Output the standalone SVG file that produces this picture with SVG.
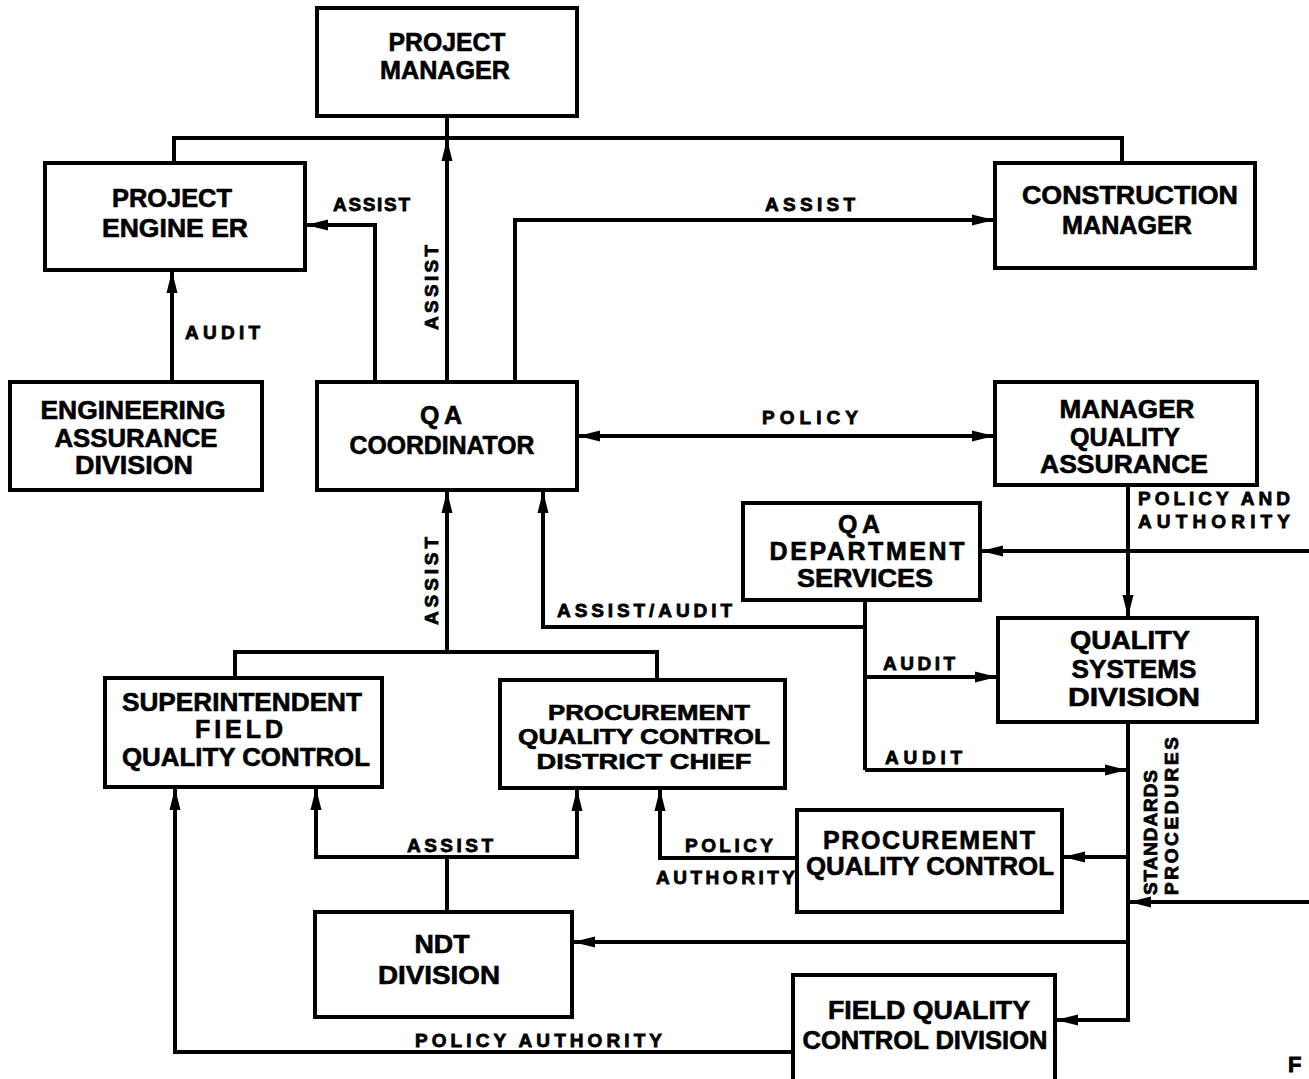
<svg xmlns="http://www.w3.org/2000/svg" width="1309" height="1079" viewBox="0 0 1309 1079">
<defs>
<style>
.box{fill:#fff;stroke:#000;stroke-width:4}
.n{font-family:"Liberation Sans",Arial,sans-serif;font-weight:bold;font-size:25px;text-anchor:middle;fill:#000;stroke:#000;stroke-width:0.6}
.l{font-family:"Liberation Sans",Arial,sans-serif;font-weight:bold;font-size:19px;fill:#000;stroke:#000;stroke-width:0.8}
.c{fill:none;stroke:#000;stroke-width:4}
.a{marker-end:url(#ah)}
</style>
<marker id="ah" markerUnits="userSpaceOnUse" viewBox="0 0 22 12" markerWidth="22" markerHeight="12" refX="21" refY="6" orient="auto-start-reverse">
<path d="M0,0.5 L22,6 L0,11.5 z" fill="#000"/>
</marker>
</defs>
<rect width="1309" height="1079" fill="#fff"/>
<g id="connectors">
<path class="c" d="M447,116 V138 M174,163 V138 H1122 V163"/>
<path class="c a" d="M447,382 V140"/>
<path class="c a" d="M375,382 V225 H307"/>
<path class="c a" d="M515,382 V220 H993"/>
<path class="c a" d="M172,382 V272"/>
<path class="c a" d="M579,436 H993" marker-start="url(#ah)"/>
<path class="c a" d="M1128,485 V616"/>
<path class="c a" d="M1309,551 H982"/>
<path class="c" d="M865,600 V770"/>
<path class="c a" d="M865,627 H543 V492"/>
<path class="c a" d="M865,677 H996"/>
<path class="c a" d="M865,770 H1126"/>
<path class="c a" d="M1128,722 V1020 H1057"/>
<path class="c a" d="M1128,857 H1064"/>
<path class="c a" d="M1309,902 H1130"/>
<path class="c a" d="M1128,942 H574"/>
<path class="c a" d="M447,652 V492"/>
<path class="c" d="M235,678 V652 H657 V680"/>
<path class="c" d="M447,912 V857"/>
<path class="c a" d="M447,857 H316 V789"/>
<path class="c a" d="M447,857 H577 V790"/>
<path class="c a" d="M797,858 H660 V790"/>
<path class="c a" d="M793,1052 H175 V789"/>
</g>
<g id="labels">
<text class="l" x="333" y="211" textLength="77" lengthAdjust="spacing">ASSIST</text>
<text class="l" x="765" y="211" textLength="90" lengthAdjust="spacing">ASSIST</text>
<text class="l" transform="translate(438,330) rotate(-90)" textLength="85" lengthAdjust="spacing">ASSIST</text>
<text class="l" x="185" y="339" textLength="75" lengthAdjust="spacing">AUDIT</text>
<text class="l" x="762" y="424" textLength="96" lengthAdjust="spacing">POLICY</text>
<text class="l" x="1138" y="505" textLength="152" lengthAdjust="spacing">POLICY AND</text>
<text class="l" x="1138" y="528" textLength="152" lengthAdjust="spacing">AUTHORITY</text>
<text class="l" transform="translate(438,625) rotate(-90)" textLength="88" lengthAdjust="spacing">ASSIST</text>
<text class="l" x="557" y="617" textLength="175" lengthAdjust="spacing">ASSIST/AUDIT</text>
<text class="l" x="883" y="670" textLength="72" lengthAdjust="spacing">AUDIT</text>
<text class="l" x="885" y="764" textLength="77" lengthAdjust="spacing">AUDIT</text>
<text class="l" transform="translate(1157,895) rotate(-90)" textLength="125" lengthAdjust="spacing">STANDARDS</text>
<text class="l" transform="translate(1178,895) rotate(-90)" textLength="158" lengthAdjust="spacing">PROCEDURES</text>
<text class="l" x="407" y="852" textLength="86" lengthAdjust="spacing">ASSIST</text>
<text class="l" x="685" y="852" textLength="88" lengthAdjust="spacing">POLICY</text>
<text class="l" x="656" y="884" textLength="139" lengthAdjust="spacing">AUTHORITY</text>
<text class="l" x="415" y="1047" textLength="247" lengthAdjust="spacing">POLICY AUTHORITY</text>
<text class="l" x="1288" y="1072" style="font-size:22px">F</text>
</g>
<g id="project-manager">
<rect class="box" x="317" y="8" width="260" height="108"/>
<text class="n" x="447" y="51" textLength="117" lengthAdjust="spacingAndGlyphs">PROJECT</text>
<text class="n" x="445" y="79" textLength="130" lengthAdjust="spacingAndGlyphs">MANAGER</text>
</g>
<g id="project-engineer">
<rect class="box" x="45" y="163" width="260" height="107"/>
<text class="n" x="172" y="207" textLength="120" lengthAdjust="spacingAndGlyphs">PROJECT</text>
<text class="n" x="175" y="237" textLength="146" lengthAdjust="spacingAndGlyphs">ENGINE ER</text>
</g>
<g id="construction-manager">
<rect class="box" x="995" y="163" width="260" height="105"/>
<text class="n" x="1130" y="204" textLength="216" lengthAdjust="spacingAndGlyphs">CONSTRUCTION</text>
<text class="n" x="1127" y="234" textLength="130" lengthAdjust="spacingAndGlyphs">MANAGER</text>
</g>
<g id="engineering-assurance-division">
<rect class="box" x="10" y="382" width="252" height="108"/>
<text class="n" x="133" y="419" textLength="185" lengthAdjust="spacingAndGlyphs">ENGINEERING</text>
<text class="n" x="136" y="447" textLength="163" lengthAdjust="spacingAndGlyphs">ASSURANCE</text>
<text class="n" x="134" y="474" textLength="118" lengthAdjust="spacingAndGlyphs">DIVISION</text>
</g>
<g id="qa-coordinator">
<rect class="box" x="317" y="382" width="260" height="108"/>
<text class="n" x="441" y="424" textLength="42" lengthAdjust="spacing">QA</text>
<text class="n" x="442" y="454" textLength="185" lengthAdjust="spacingAndGlyphs">COORDINATOR</text>
</g>
<g id="manager-quality-assurance">
<rect class="box" x="995" y="382" width="262" height="103"/>
<text class="n" x="1127" y="418" textLength="135" lengthAdjust="spacingAndGlyphs">MANAGER</text>
<text class="n" x="1125" y="446" textLength="110" lengthAdjust="spacingAndGlyphs">QUALITY</text>
<text class="n" x="1124" y="473" textLength="168" lengthAdjust="spacingAndGlyphs">ASSURANCE</text>
</g>
<g id="qa-department-services">
<rect class="box" x="743" y="503" width="237" height="97"/>
<text class="n" x="859" y="533" textLength="42" lengthAdjust="spacing">QA</text>
<text class="n" x="867" y="560" textLength="195" lengthAdjust="spacing">DEPARTMENT</text>
<text class="n" x="865" y="587" textLength="136" lengthAdjust="spacingAndGlyphs">SERVICES</text>
</g>
<g id="quality-systems-division">
<rect class="box" x="998" y="618" width="259" height="104"/>
<text class="n" x="1130" y="649" textLength="120" lengthAdjust="spacingAndGlyphs">QUALITY</text>
<text class="n" x="1134" y="678" textLength="125" lengthAdjust="spacingAndGlyphs">SYSTEMS</text>
<text class="n" x="1134" y="706" textLength="132" lengthAdjust="spacingAndGlyphs">DIVISION</text>
</g>
<g id="superintendent-field-quality-control">
<rect class="box" x="105" y="678" width="277" height="109"/>
<text class="n" x="242" y="711" textLength="240" lengthAdjust="spacingAndGlyphs">SUPERINTENDENT</text>
<text class="n" x="239" y="738" textLength="88" lengthAdjust="spacing">FIELD</text>
<text class="n" x="246" y="766" textLength="248" lengthAdjust="spacingAndGlyphs">QUALITY CONTROL</text>
</g>
<g id="procurement-qc-district-chief">
<rect class="box" x="500" y="680" width="285" height="108"/>
<text class="n" x="649" y="720" textLength="202" lengthAdjust="spacingAndGlyphs" style="font-size:22px">PROCUREMENT</text>
<text class="n" x="644" y="744" textLength="252" lengthAdjust="spacingAndGlyphs" style="font-size:22px">QUALITY CONTROL</text>
<text class="n" x="644" y="769" textLength="215" lengthAdjust="spacingAndGlyphs" style="font-size:22px">DISTRICT CHIEF</text>
</g>
<g id="procurement-quality-control">
<rect class="box" x="797" y="810" width="265" height="102"/>
<text class="n" x="929" y="849" textLength="212" lengthAdjust="spacing">PROCUREMENT</text>
<text class="n" x="930" y="875" textLength="248" lengthAdjust="spacingAndGlyphs">QUALITY CONTROL</text>
</g>
<g id="ndt-division">
<rect class="box" x="315" y="912" width="257" height="105"/>
<text class="n" x="442" y="953" textLength="55" lengthAdjust="spacingAndGlyphs">NDT</text>
<text class="n" x="439" y="984" textLength="122" lengthAdjust="spacingAndGlyphs">DIVISION</text>
</g>
<g id="field-quality-control-division">
<rect class="box" x="793" y="975" width="262" height="110"/>
<text class="n" x="929" y="1019" textLength="202" lengthAdjust="spacingAndGlyphs">FIELD QUALITY</text>
<text class="n" x="925" y="1049" textLength="245" lengthAdjust="spacingAndGlyphs">CONTROL DIVISION</text>
</g>
</svg>
